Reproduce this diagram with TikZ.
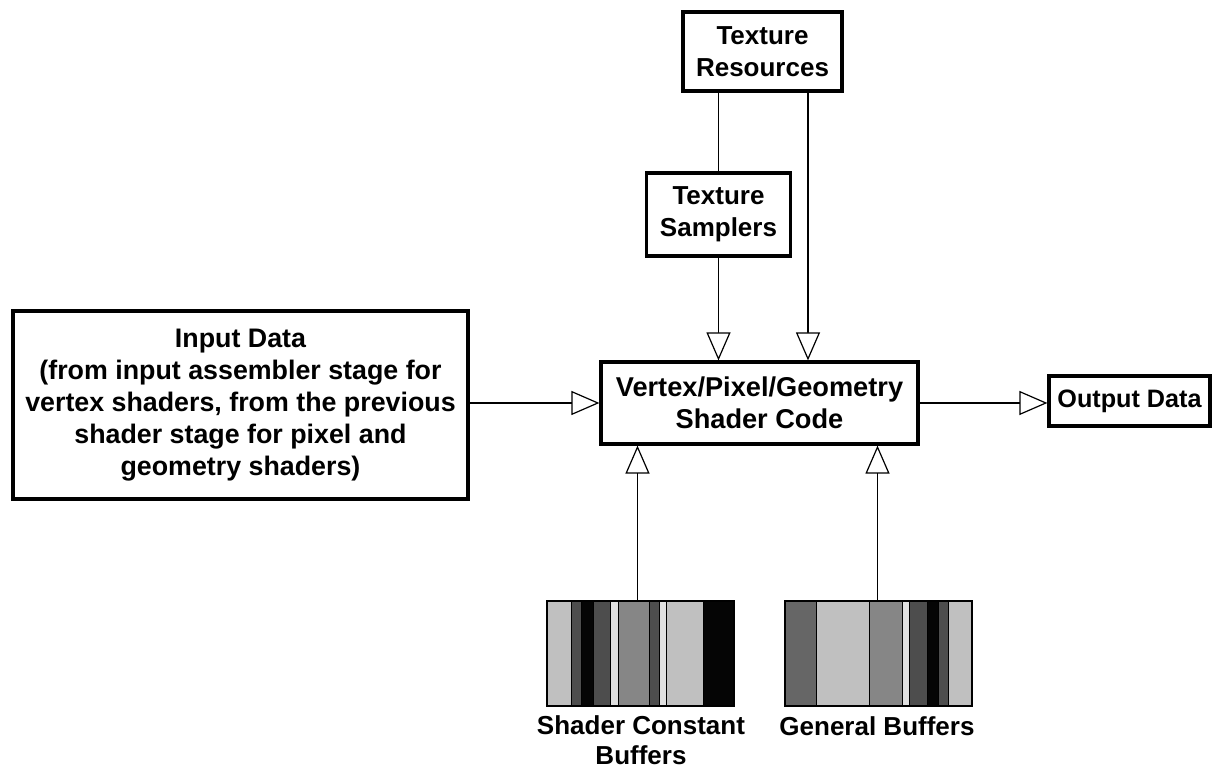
\documentclass[tikz,border=0pt]{standalone}
\usepackage{fontspec}
\setmainfont{Liberation Sans}
\usetikzlibrary{arrows.meta,calc}

\definecolor{lg}{HTML}{C0C0C0}
\definecolor{dg}{HTML}{4D4D4D}
\definecolor{bk}{HTML}{050505}
\definecolor{vl}{HTML}{E0E0E0}
\definecolor{md}{HTML}{868686}
\definecolor{gs}{HTML}{666666}

% vertical bands of a buffer: left/right offsets (px) from its west side, colour
\newcommand\bufferbands[2]{%
  \foreach \a/\b/\c in {#2}
    \filldraw[fill=\c, draw=black, line width=0.5pt]
      ($(#1.south west)+(\a,0)$) rectangle ($(#1.north west)+(\b,0)$);%
}

\begin{document}
\begin{tikzpicture}[x=0.5pt, y=-0.5pt,
  every node/.style={font=\bfseries\fontsize{13}{16}\selectfont, align=center},
  box/.style={draw, line width=1.6pt, inner sep=0pt},
  buffer/.style={inner sep=0pt, outer sep=0pt, minimum width=93.5pt, minimum height=52.5pt},
  lbl/.style={inner sep=0pt},
  link/.style={line width=0.9pt},
  arr/.style={line width=0.9pt,
    -{Triangle[length=14pt, width=12pt, fill=white, line width=0.6pt]}}
]
\useasboundingbox[fill=white] (0,0) rectangle (1212,769);

% boxes
\node[box, minimum width=79.5pt, minimum height=39.5pt] (res) at (762.5,51.5) {Texture\\Resources};
\node[box, minimum width=72pt, minimum height=41.5pt] (samp) at (718.5,214.5) {Texture\\Samplers};
\node[box, minimum width=158.5pt, minimum height=41pt,
      font=\bfseries\fontsize{13.6}{16}\selectfont] (code) at (759.5,403) {Vertex/Pixel/Geometry\\Shader Code};
\node[box, minimum width=227.5pt, minimum height=94pt,
      font=\bfseries\fontsize{13.4}{16}\selectfont] (input) at (240.5,405)
  {Input Data\\(from input assembler stage for\\vertex shaders, from the previous\\shader stage for pixel and\\geometry shaders)};
\node[box, minimum width=80.5pt, minimum height=25pt, font=\bfseries\fontsize{12.6}{16}\selectfont] (output) at (1129.5,401) {Output Data};

% buffers
\node[buffer] (scb) at (640.5,653.5) {};
\node[buffer] (gb) at (878.5,653.5) {};
\bufferbands{scb}{0/24/lg, 24/34/dg, 34/46/bk, 46/63/dg, 63/71/vl, 71/102/md, 102/112/dg, 112/119/vl, 119/156/lg, 156/187/bk}
\bufferbands{gb}{0/31/gs, 31/84/lg, 84/117/md, 117/124/vl, 124/142/dg, 142/153/bk, 153/163/dg, 163/187/lg}
\draw[line width=1.2pt] (scb.south west) rectangle (scb.north east);
\draw[line width=1.2pt] (gb.south west) rectangle (gb.north east);

\node[lbl, font=\bfseries\fontsize{13}{15}\selectfont] (scblabel) at (641,740) {Shader Constant\\Buffers};
\node[lbl] (gblabel) at (877,726) {General Buffers};

% connectors
\draw[link] (res.south -| samp.north) -- (samp.north);
\draw[arr] (samp.south) -- (samp.south |- code.north);
\coordinate (rr) at ($(res.south)+(45.5,0)$);
\draw[arr] (rr) -- (rr |- code.north);
\draw[arr] (input.east |- code.west) -- (code.west);
\draw[arr] (code.east) -- (code.east -| output.west);
\coordinate (sa) at ($(scb.north)+(-3,0)$);
\draw[arr] (sa) -- (sa |- code.south);
\coordinate (ga) at ($(gb.north)+(-1,0)$);
\draw[arr] (ga) -- (ga |- code.south);
\end{tikzpicture}
\end{document}
